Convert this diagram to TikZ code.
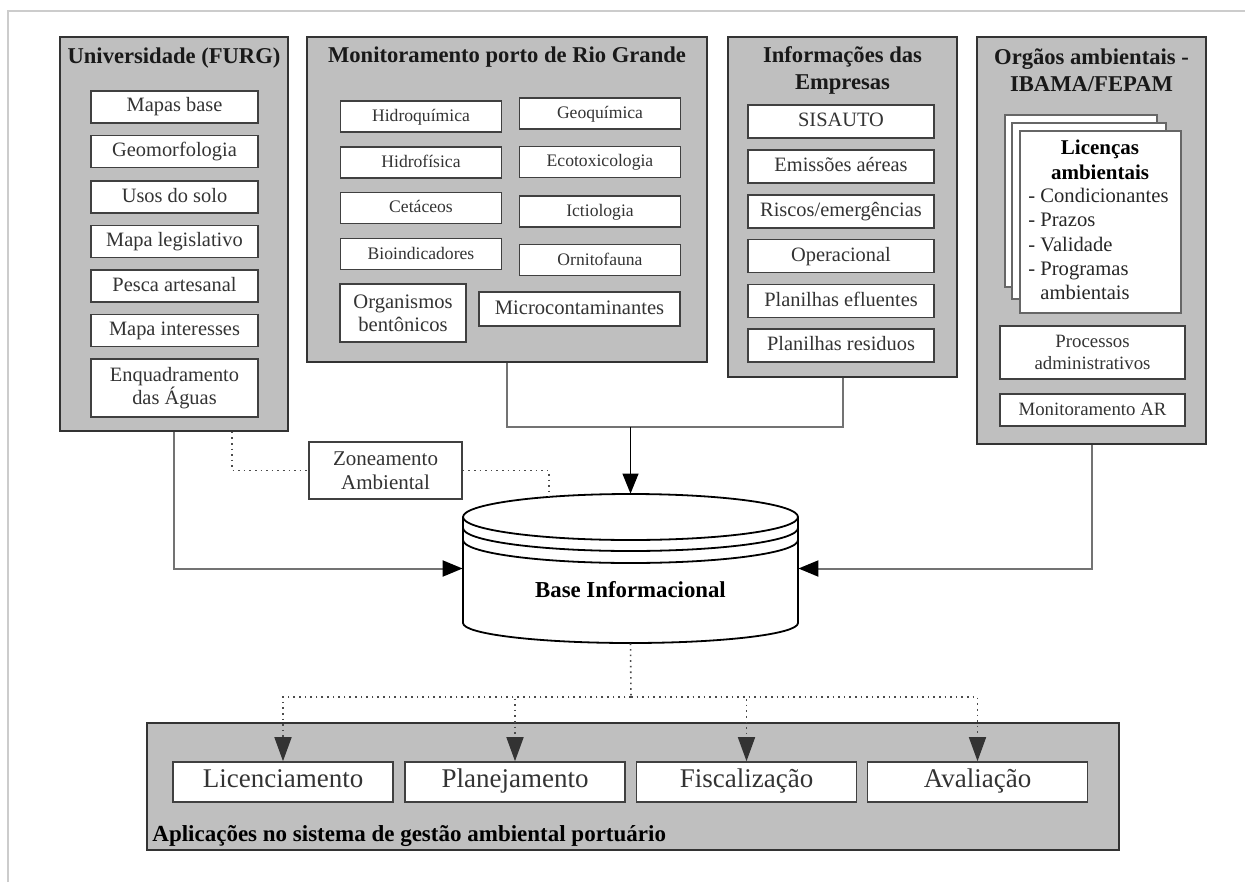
\documentclass[tikz,border=0pt]{standalone}
\usepackage{fontspec}
\setmainfont{Liberation Serif}
\usetikzlibrary{arrows.meta,positioning,calc}
\tikzset{
	grupo/.style={draw=black!80, fill=black!25, line width=0.8pt},
	item/.style={draw=black!75, fill=white, line width=0.8pt, align=center, inner sep=1pt, text=black!80},
	linha/.style={text height=0.72em, text depth=0.22em},
	titulo/.style={font=\bfseries\fontsize{11.3}{13.5}\selectfont, align=center, text=black!90},
	pagina/.style={draw=black!60, fill=white, line width=0.6pt},
	liga/.style={draw=black!55, line width=1pt},
	ponta/.style={-{Triangle[length=10pt,width=8pt,color=black]}},
	pontos/.style={draw=black!70, dotted, line width=0.8pt},
}
\begin{document}
\begin{tikzpicture}[x=0.5pt,y=-0.5pt]
	\useasboundingbox (0,0) rectangle (1245,882);
	\draw[black!20, line width=0.8pt] (8,882) -- (8,11) -- (1245,11);
	% grupos de fontes
	\node[grupo, minimum width=114pt, minimum height=197pt] (furg) at (174,234) {};
	\node[titulo] (furgtit) at (174,58) {Universidade (FURG)};
	\foreach \yy/\txt [count=\i] in {107/Mapas base, 151.5/Geomorfologia, 197/Usos do solo,
		241.5/Mapa legislativo, 286/Pesca artesanal, 330.5/Mapa interesses}
		\node[item, linha, minimum width=83.5pt, minimum height=16pt, font=\fontsize{10.2}{11.5}\selectfont] (u\i) at (174.5,\yy) {\txt};
	\node[item, minimum width=83.5pt, minimum height=29pt, font=\fontsize{10.2}{11.2}\selectfont] (u7) at (174.5,388) {Enquadramento\\das Águas};

	\node[grupo, minimum width=200pt, minimum height=162.5pt] (mon) at (507,199.5) {};
	\node[titulo] (montit) at (507,57) {Monitoramento porto de Rio Grande};
	\foreach \xx/\yy/\txt [count=\i] in {421/116.5/Hidroquímica, 600/113.5/Geoquímica,
		421/162.5/Hidrofísica, 600/162/Ecotoxicologia, 421/208/Cetáceos, 600/211.5/Ictiologia,
		421/254/Bioindicadores, 600/260/Ornitofauna}
		\node[item, linha, minimum width=80.5pt, minimum height=15.5pt, font=\fontsize{8.8}{10}\selectfont] (m\i) at (\xx,\yy) {\txt};
	\node[item, minimum width=63pt, minimum height=29pt, font=\fontsize{10.3}{11.5}\selectfont] (m9) at (403,313) {Organismos\\bentônicos};
	\node[item, linha, minimum width=100.5pt, minimum height=17pt, font=\fontsize{10.3}{11.5}\selectfont] (m10) at (579.5,309) {Microcontaminantes};

	\node[grupo, minimum width=114.5pt, minimum height=170pt] (emp) at (842.5,207) {};
	\node[titulo] (emptit) at (842.5,70.5) {Informações das\\Empresas};
	\foreach \yy/\txt [count=\i] in {121.5/SISAUTO, 166.5/Emissões aéreas, 211.5/{Riscos/emergências},
		256/Operacional, 301/Planilhas efluentes, 345.5/Planilhas residuos}
		\node[item, linha, minimum width=93pt, minimum height=16.5pt, font=\fontsize{10.2}{11.5}\selectfont] (e\i) at (841,\yy) {\txt};

	\node[grupo, minimum width=114.5pt, minimum height=203.5pt] (org) at (1091.5,240.5) {};
	\node[titulo] (orgtit) at (1091.5,70.5) {Orgãos ambientais -\\IBAMA/FEPAM};
	\node[pagina, minimum width=76pt, minimum height=86pt] (pg1) at (1081,201) {};
	\node[pagina, minimum width=77pt, minimum height=88pt] (pg2) at (1089,211) {};
	\node[pagina, minimum width=80.5pt, minimum height=91pt] (pg3) at (1100.5,222) {};
	\node[font=\bfseries\fontsize{10.5}{12.5}\selectfont, align=center, inner sep=0] (lictit) at (1100,159.5) {Licenças\\ambientais};
	\node[anchor=west, align=left, inner sep=0, text=black!85, font=\fontsize{10.3}{12.1}\selectfont] (liclst) at (1028,244)
		{- Condicionantes\\- Prazos\\- Validade\\- Programas\\\phantom{- }ambientais};
	\node[item, minimum width=92.5pt, minimum height=26.5pt, font=\fontsize{9.4}{11}\selectfont] (o1) at (1092.5,352.5) {Processos\\administrativos};
	\node[item, linha, minimum width=92.5pt, minimum height=16pt, font=\fontsize{9.4}{11}\selectfont] (o2) at (1092.5,410) {Monitoramento AR};

	% base de dados
	\node[item, minimum width=76.5pt, minimum height=28.5pt, font=\fontsize{10.5}{12}\selectfont] (zone) at (385.5,470.5) {Zoneamento\\Ambiental};
	\node[minimum width=167.5pt, minimum height=74.5pt, inner sep=0] (db) at (630.5,568.5) {};
	\draw[line width=0.9pt] (463,517) -- (463,623) arc[start angle=180, end angle=360, x radius=83.75pt, y radius=10pt] -- (798,517);
	\draw[line width=0.9pt] (630.5,517) ellipse [x radius=83.75pt, y radius=11.5pt];
	\foreach \yy in {528,540}
		\draw[line width=0.9pt] (463,\yy) arc[start angle=180, end angle=360, x radius=83.75pt, y radius=11.5pt];
	\node[font=\bfseries\fontsize{11.4}{13}\selectfont] (dbtxt) at (630.5,590) {Base Informacional};
	\coordinate (junc) at (630.5,427);
	\coordinate (dbtop) at (549,497);
	\coordinate (split) at (631,697);

	% aplicacoes
	\node[grupo, minimum width=486pt, minimum height=63.5pt] (apl) at (633,786.5) {};
	\foreach \xx/\nome/\txt in {283/lic/Licenciamento, 515/plan/Planejamento, 746.5/fisc/Fiscalização, 977.5/aval/Avaliação}
		\node[item, linha, minimum width=110pt, minimum height=20pt, font=\fontsize{13.5}{15}\selectfont] (\nome) at (\xx,782) {\txt};
	\node[anchor=base west, inner sep=0, font=\bfseries\fontsize{11.5}{13}\selectfont] (apltit) at (152,841) {Aplicações no sistema de gestão ambiental portuário};

	% ligacoes
	\draw[liga, ponta] (furg.south) |- (db.west);
	\draw[liga, ponta] (org.south) |- (db.east);
	\draw[liga] (mon.south) |- (junc) -| (emp.south);
	\draw[line width=0.6pt, ponta] (junc) -- (db.north);
	\draw[pontos] ([xshift=29pt]furg.south) |- (zone.west);
	\draw[pontos] (zone.east) -| (dbtop);
	\draw[pontos] (db.south) -- (split);
	\foreach \nome in {lic,plan,fisc,aval}
		\draw[pontos, -{Triangle[length=12pt,width=8.5pt,color=black!80]}] (split) -| (\nome.north);
\end{tikzpicture}
\end{document}
